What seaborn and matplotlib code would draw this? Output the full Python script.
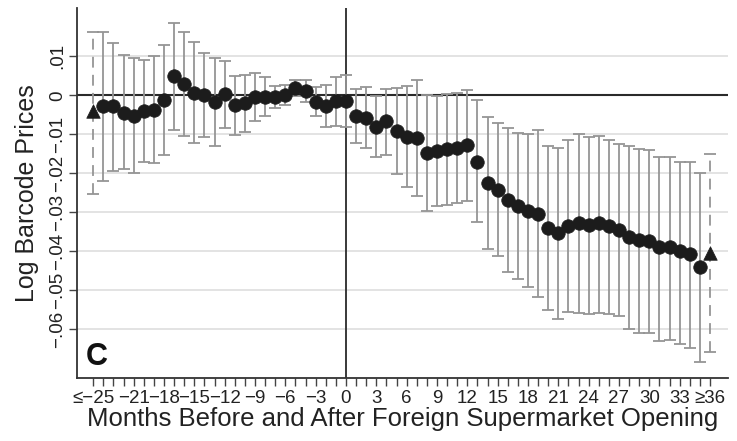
import numpy as np
import pandas as pd
import matplotlib
matplotlib.use("Agg")
import matplotlib.pyplot as plt
import seaborn as sns

# ---- data ----
months = list(range(-25, 37))
coef = [-0.0041, -0.0027, -0.0027, -0.0046, -0.0054, -0.0040, -0.0037, -0.0012,
        0.0050, 0.0029, 0.0007, 0.0001, -0.0017, 0.0004, -0.0026, -0.0020,
        -0.0005, -0.0005, -0.0005, 0.0001, 0.0018, 0.0012, -0.0016, -0.0027,
        -0.0014, -0.0014, -0.0053, -0.0058, -0.0080, -0.0067, -0.0091, -0.0106,
        -0.0110, -0.0147, -0.0144, -0.0138, -0.0134, -0.0127, -0.0170, -0.0224,
        -0.0242, -0.0268, -0.0285, -0.0296, -0.0304, -0.0341, -0.0353, -0.0335,
        -0.0328, -0.0333, -0.0327, -0.0336, -0.0345, -0.0363, -0.0372, -0.0374,
        -0.0390, -0.0389, -0.0398, -0.0407, -0.0439, -0.0405]
ci_hi = [0.0162, 0.0162, 0.0134, 0.0104, 0.0095, 0.0091, 0.0100, 0.0128,
         0.0185, 0.0162, 0.0136, 0.0108, 0.0095, 0.0089, 0.0050, 0.0053,
         0.0058, 0.0046, 0.0023, 0.0027, 0.0038, 0.0038, 0.0021, 0.0027,
         0.0047, 0.0053, 0.0016, 0.0021, -0.0003, 0.0016, 0.0020, 0.0023,
         0.0038, 0.0001, -0.0003, 0.0003, 0.0007, 0.0014, -0.0012, -0.0056,
         -0.0071, -0.0084, -0.0097, -0.0100, -0.0088, -0.0129, -0.0135, -0.0114,
         -0.0100, -0.0106, -0.0104, -0.0114, -0.0125, -0.0129, -0.0138, -0.0141,
         -0.0157, -0.0157, -0.0170, -0.0172, -0.0198, -0.0151]
ci_lo = [-0.0253, -0.0219, -0.0194, -0.0189, -0.0200, -0.0170, -0.0174, -0.0153,
         -0.0088, -0.0104, -0.0123, -0.0106, -0.0129, -0.0083, -0.0101, -0.0093,
         -0.0065, -0.0052, -0.0033, -0.0024, -0.0003, -0.0016, -0.0053, -0.0080,
         -0.0078, -0.0080, -0.0123, -0.0134, -0.0157, -0.0154, -0.0201, -0.0236,
         -0.0257, -0.0296, -0.0285, -0.0281, -0.0276, -0.0270, -0.0325, -0.0394,
         -0.0411, -0.0452, -0.0471, -0.0492, -0.0516, -0.0550, -0.0573, -0.0556,
         -0.0559, -0.0561, -0.0557, -0.0561, -0.0567, -0.0599, -0.0610, -0.0610,
         -0.0629, -0.0627, -0.0638, -0.0647, -0.0683, -0.0658]

x_tick_pos = [-25, -21, -18, -15, -12, -9, -6, -3, 0, 3, 6, 9, 12, 15, 18, 21, 24, 27, 30, 33, 36]
x_tick_lab = ["≤−25", "−21", "−18", "−15", "−12", "−9", "−6", "−3", "0", "3", "6", "9",
              "12", "15", "18", "21", "24", "27", "30", "33", "≥36"]
y_tick_pos = [0.01, 0.0, -0.01, -0.02, -0.03, -0.04, -0.05, -0.06]
y_tick_lab = [".01", "0", "−.01", "−.02", "−.03", "−.04", "−.05", "−.06"]

df = pd.DataFrame({"month": months, "coef": coef, "hi": ci_hi, "lo": ci_lo})
df["end"] = (df["month"] == months[0]) | (df["month"] == months[-1])
mid = df[~df["end"]]
ends = df[df["end"]]

sns.set_theme(style="white")
plt.rcParams["font.family"] = ["Liberation Sans", "DejaVu Sans"]

fig = plt.figure(figsize=(7.37, 4.41), dpi=100)
ax = fig.add_axes([0.1045, 0.1435, 0.8835, 0.8385])

# grid lines
for v in y_tick_pos:
    if v != 0:
        ax.axhline(v, color="#dedede", lw=1.2, zorder=0)
ax.axhline(0, color="#2a2a2a", lw=1.5, zorder=1)
ax.axvline(0, color="#2a2a2a", lw=1.3, zorder=1)

ecol = "#959595"
ax.errorbar(mid["month"], mid["coef"],
            yerr=[mid["coef"] - mid["lo"], mid["hi"] - mid["coef"]],
            fmt="none", ecolor=ecol, elinewidth=1.3, capsize=4.5, capthick=1.3, zorder=2)
eb = ax.errorbar(ends["month"], ends["coef"],
                 yerr=[ends["coef"] - ends["lo"], ends["hi"] - ends["coef"]],
                 fmt="none", ecolor=ecol, elinewidth=1.3, capsize=4.5, capthick=1.3, zorder=2)
for lc in eb[2]:
    lc.set_linestyle((0, (6, 4)))

sns.scatterplot(data=mid, x="month", y="coef", marker="o", s=95, color="#1c1c1c",
                edgecolor="#1c1c1c", linewidth=0.5, ax=ax, zorder=3, legend=False)
sns.scatterplot(data=ends, x="month", y="coef", marker="^", s=95, color="#1c1c1c",
                edgecolor="#1c1c1c", linewidth=0.5, ax=ax, zorder=3, legend=False)

ax.set_xlim(-26.6, 37.8)
ax.set_ylim(-0.0724, 0.0224)

ax.set_xticks(months, minor=True)
ax.set_xticks(x_tick_pos)
ax.set_xticklabels(x_tick_lab, fontsize=13.5, color="#222222")
ax.tick_params(axis="x", which="both", direction="out", length=6, width=1.0,
               color="#444444", bottom=True, pad=3)
ax.set_yticks(y_tick_pos)
ax.set_yticklabels(y_tick_lab, fontsize=13.5, rotation=90, va="center", color="#222222")
ax.tick_params(axis="y", direction="out", length=6, width=1.0, color="#444444", left=True, pad=2)

for s in ["top", "right"]:
    ax.spines[s].set_visible(False)
for s in ["left", "bottom"]:
    ax.spines[s].set_color("#333333")
    ax.spines[s].set_linewidth(1.3)

ax.set_xlabel("Months Before and After Foreign Supermarket Opening", fontsize=18.5,
              color="#222222", labelpad=0)
ax.set_ylabel("Log Barcode Prices", fontsize=18, color="#222222", labelpad=7)

ax.text(0.014, 0.035, "C", transform=ax.transAxes, fontsize=22, fontweight="bold",
        ha="left", va="baseline", color="#111111")

fig.savefig("out.png", dpi=100, facecolor="white")
